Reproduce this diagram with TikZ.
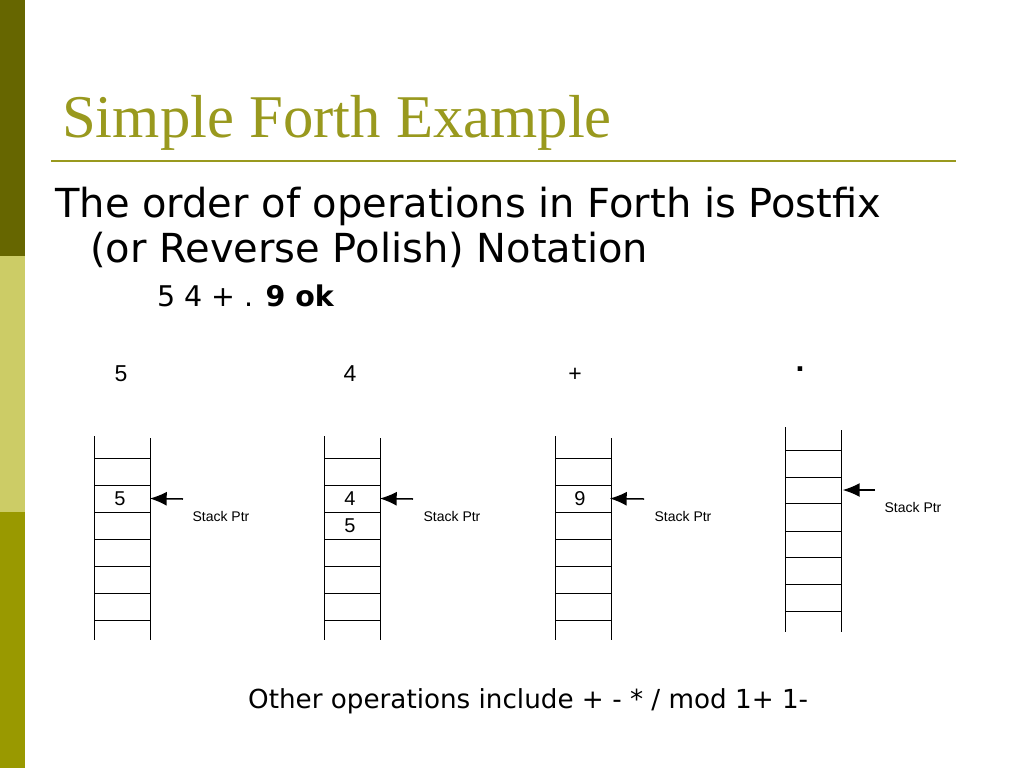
\documentclass[tikz,border=0pt]{standalone}
\usepackage{fontspec}
\setmainfont{DejaVu Sans}
\newfontfamily\arialfont{Liberation Sans}
\newfontfamily\timesfont{Liberation Serif}
\usetikzlibrary{arrows.meta, positioning}
\definecolor{olivedark}{RGB}{102,102,0}
\definecolor{olivelight}{RGB}{204,204,102}
\definecolor{olivemid}{RGB}{153,153,0}
\definecolor{titleolive}{RGB}{153,153,30}

\begin{document}
\begin{tikzpicture}[
    x=1pt, y=-1pt,
    title/.style={anchor=base west, inner sep=0pt, text=titleolive, font=\timesfont\fontsize{60.7}{60}\selectfont},
    body/.style={anchor=base west, inner sep=0pt, font=\fontsize{40}{40}\selectfont},
    small/.style={anchor=base west, inner sep=0pt, font=\fontsize{28.5}{28}\selectfont},
    oplabel/.style={anchor=base, inner sep=0pt, font=\arialfont\fontsize{23}{23}\selectfont},
    cell/.style={minimum width=56pt, minimum height=27pt, inner sep=0pt, font=\arialfont\fontsize{20}{20}\selectfont},
    ptrlabel/.style={inner sep=0pt, font=\arialfont\fontsize{14}{14}\selectfont},
    rail/.style={line width=1pt},
    ptrarrow/.style={-{Latex[length=17pt,width=14pt]}, line width=1.5pt}
]

    % Page and side bar
    \useasboundingbox (0,0) rectangle (1024,768);
    \fill[white] (0,0) rectangle (1024,768);
    \fill[olivedark] (0,0) rectangle (25,256);
    \fill[olivelight] (0,256) rectangle (25,512);
    \fill[olivemid] (0,512) rectangle (25,768);

    % Title
    \node[title] (title) at (62,137) {Simple Forth Example};
    \draw[titleolive, line width=2.8pt] (51,161) -- (956,161);

    % Text
    \node[body] (line1) at (55,217) {The order of operations in Forth is Postfix};
    \node[body] (line2) at (90,262) {(or Reverse Polish) Notation};
    \node[small] (input) at (157,306) {5 4 + . \textbf{9 ok}};

    % Operation labels
    \node[oplabel] (op1) at (121,381) {5};
    \node[oplabel] (op2) at (350,381) {4};
    \node[oplabel] (op3) at (575,381) {+};
    \node[oplabel, font=\arialfont\bfseries\fontsize{32}{32}\selectfont] (op4) at (800,371.5) {.};

    % Stack 1
    \draw[rail] (94,436) -- (94,640);
    \draw[rail] (150,438) -- (150,640);
    \foreach \y in {458,485,512,539,566,593,620} \draw[rail] (94,\y) -- (150,\y);
    \node[cell] (top1) at (120,498.5) {5};
    \coordinate (ptr1) at (183,499);
    \node[ptrlabel] (sp1) at (221,516) {Stack Ptr};
    \draw[ptrarrow] (ptr1) -- ([xshift=1.5pt]top1.east);

    % Stack 2
    \draw[rail] (324,436) -- (324,640);
    \draw[rail] (380,438) -- (380,640);
    \foreach \y in {458,485,512,539,566,593,620} \draw[rail] (324,\y) -- (380,\y);
    \node[cell] (top2) at (350,498.5) {4};
    \node[cell] (next2) at (350,525.5) {5};
    \coordinate (ptr2) at (413,499);
    \node[ptrlabel] (sp2) at (452,516) {Stack Ptr};
    \draw[ptrarrow] (ptr2) -- ([xshift=1.5pt]top2.east);

    % Stack 3
    \draw[rail] (555,436) -- (555,640);
    \draw[rail] (611,438) -- (611,640);
    \foreach \y in {458,485,512,539,566,593,620} \draw[rail] (555,\y) -- (611,\y);
    \node[cell] (top3) at (580,498.5) {9};
    \coordinate (ptr3) at (644,499);
    \node[ptrlabel] (sp3) at (683,516) {Stack Ptr};
    \draw[ptrarrow] (ptr3) -- ([xshift=1.5pt]top3.east);

    % Stack 4
    \draw[rail] (785,427) -- (785,632);
    \draw[rail] (841,430) -- (841,632);
    \foreach \y in {450,477,503,531,557,584,611} \draw[rail] (785,\y) -- (841,\y);
    \node[cell] (top4) at (813,490) {};
    \coordinate (ptr4) at (875,490);
    \node[ptrlabel] (sp4) at (913,507) {Stack Ptr};
    \draw[ptrarrow] (ptr4) -- ([xshift=1.5pt]top4.east);

    % Footer text
    \node[small, font=\fontsize{26.2}{26}\selectfont] (other) at (248,708) {Other operations include + - * / mod 1+ 1-};

\end{tikzpicture}
\end{document}
